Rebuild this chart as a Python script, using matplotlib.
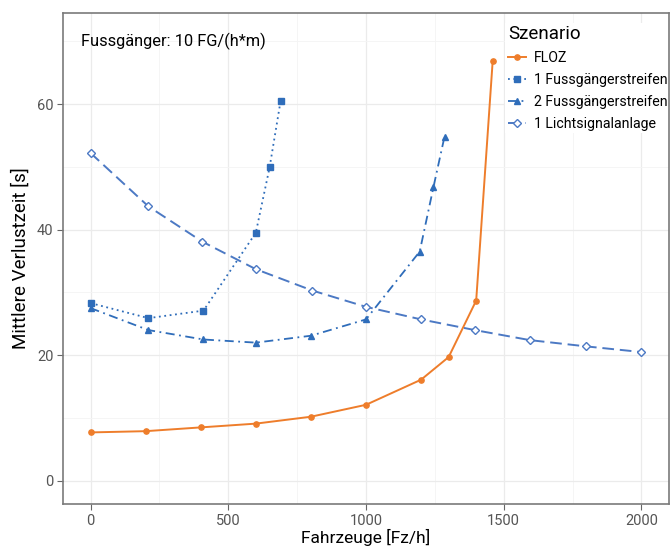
import matplotlib
matplotlib.use("Agg")
from matplotlib import pyplot as plt, ticker

plt.rcParams["font.family"] = ["Roboto", "DejaVu Sans"]

# FLOZ
floz_x = [0, 200, 400, 600, 800, 1000, 1200, 1300, 1400, 1460]
floz_y = [7.7, 7.9, 8.5, 9.1, 10.2, 12.1, 16.1, 19.7, 28.7, 66.9]

# 1 Fussgaengerstreifen
fg1_x = [0, 210, 410, 600, 650, 690]
fg1_y = [28.3, 25.9, 27.1, 39.5, 49.9, 60.5]

# 2 Fussgaengerstreifen
fg2_x = [0, 210, 410, 600, 800, 1000, 1195, 1245, 1285]
fg2_y = [27.5, 24.0, 22.5, 22.0, 23.1, 25.7, 36.5, 46.8, 54.8]

# 1 Lichtsignalanlage
lsa_x = [0, 210, 405, 600, 805, 1000, 1200, 1395, 1595, 1800, 2000]
lsa_y = [52.2, 43.7, 38.1, 33.7, 30.3, 27.7, 25.7, 24.0, 22.4, 21.4, 20.5]

x_ticks = [0, 500, 1000, 1500, 2000]
y_ticks = [0, 20, 40, 60]

orange = "#EE7D2B"
blue = "#2F6DBA"
blue2 = "#4C79C4"

fig = plt.figure(figsize=(6.71, 5.47), dpi=100)
ax = fig.add_axes([63 / 671, 43 / 547, 606 / 671, 491 / 547])

ax.plot(floz_x, floz_y, color=orange, lw=1.4, marker="o", ms=3.8,
        label="FLOZ")
ax.plot(fg1_x, fg1_y, color=blue, lw=1.3, ls=(0, (1, 2)), marker="s", ms=4.2,
        label="1 Fussgängerstreifen")
ax.plot(fg2_x, fg2_y, color=blue, lw=1.3, ls=(0, (5, 2.5, 1, 2.5)), marker="^",
        ms=4.8, label="2 Fussgängerstreifen")
ax.plot(lsa_x, lsa_y, color=blue2, lw=1.4, ls=(0, (6, 3)), marker="D", ms=4.2,
        mfc="white", mec=blue2, mew=1.0, label="1 Lichtsignalanlage")

ax.set_xlim(-100, 2100)
ax.set_ylim(-3.7, 74.5)
ax.set_xticks(x_ticks)
ax.set_yticks(y_ticks)
ax.xaxis.set_minor_locator(ticker.MultipleLocator(250))
ax.yaxis.set_minor_locator(ticker.MultipleLocator(10))
ax.grid(which="major", color="#ebebeb", lw=0.9)
ax.grid(which="minor", color="#f4f4f4", lw=0.6)
ax.set_axisbelow(True)
ax.tick_params(which="major", length=4, color="#666666", labelcolor="#555555",
               labelsize=10.5, pad=3)
ax.tick_params(which="minor", length=0)
for s in ax.spines.values():
    s.set_color("#7a7a7a")
    s.set_linewidth(1.2)

ax.set_xlabel("Fahrzeuge [Fz/h]", fontsize=12.5, labelpad=1)
ax.set_ylabel("Mittlere Verlustzeit [s]", fontsize=13.5, labelpad=5)

ax.text(0.03, 0.96, "Fussgänger: 10 FG/(h*m)", transform=ax.transAxes,
        fontsize=11.8, va="top", ha="left")

leg = ax.legend(title="Szenario", loc="upper left",
                bbox_to_anchor=(0.718, 0.995), frameon=True, fancybox=False,
                edgecolor="none", facecolor="white", framealpha=1,
                fontsize=10.2, title_fontsize=13.5, handlelength=1.3,
                handletextpad=0.5, labelspacing=0.55, borderpad=0.2)
leg._legend_box.align = "left"
leg.set_zorder(2.45)

fig.savefig("out.png", dpi=100)
